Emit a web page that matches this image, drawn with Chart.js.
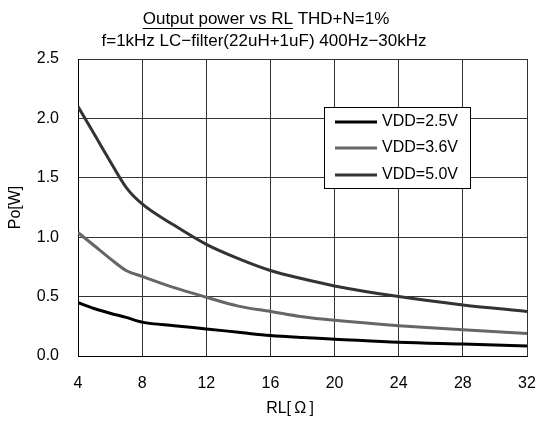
<!DOCTYPE html>
<html>
<head>
<meta charset="utf-8">
<script src="https://cdn.jsdelivr.net/npm/chart.js@4.4.0/dist/chart.umd.min.js"></script>
<style>
    html, body { margin: 0; padding: 0; background: #fff; }
    #wrap { width: 541px; height: 426px; }
</style>
</head>
<body>
<div id="wrap"><canvas id="myChart" width="541" height="426"></canvas></div>
<script>
// load resistance (ohm)
const rl = [4, 5, 6, 7, 8, 10, 12, 14, 16, 18, 20, 24, 28, 32];
// output power (W) per supply voltage
const po25 = [0.45, 0.40, 0.36, 0.325, 0.285, 0.255, 0.228, 0.20, 0.172, 0.155, 0.142, 0.115, 0.10, 0.085];
const po36 = [1.04, 0.93, 0.82, 0.72, 0.67, 0.575, 0.495, 0.42, 0.375, 0.33, 0.30, 0.255, 0.22, 0.19];
const po50 = [2.10, 1.87, 1.64, 1.42, 1.28, 1.10, 0.94, 0.82, 0.72, 0.65, 0.59, 0.50, 0.43, 0.375];
const seriesLabels = ['VDD=2.5V', 'VDD=3.6V', 'VDD=5.0V'];
const seriesColours = ['#000000', '#666666', '#333333'];
const xTicks = [4, 8, 12, 16, 20, 24, 28, 32];
const yTicks = [0, 0.5, 1.0, 1.5, 2.0, 2.5];
const xTitle = 'RL[\u2009Ω\u2009]';
const yTitle = 'Po[W]';

const FONT = "'Liberation Sans', 'Noto Sans CJK JP', sans-serif";

function toPoints(values) {
    return rl.map((x, i) => ({ x: x, y: values[i] }));
}

// titles drawn by hand so part of the first line can be underlined
const titlePlugin = {
    id: 'titleLines',
    afterDraw(chart) {
        const ctx = chart.ctx;
        ctx.save();
        ctx.fillStyle = '#000';
        ctx.font = '17px ' + FONT;
        ctx.textBaseline = 'middle';
        const a = 'Output power vs RL';
        const b = ' THD+N=1%';
        const wa = ctx.measureText(a).width;
        const wb = ctx.measureText(b).width;
        let x0 = 266 - (wa + wb) / 2;
        ctx.textAlign = 'left';
        ctx.fillText(a, x0, 19);
        ctx.fillText(b, x0 + wa, 19);
        ctx.fillRect(x0, 28, wa, 1);
        ctx.textAlign = 'center';
        ctx.fillText('f=1kHz LC\u2212filter(22uH+1uF) 400Hz\u221230kHz', 264, 41);

        // x axis title sits a bit left of the plot centre
        ctx.font = '16px ' + FONT;
        ctx.fillText(xTitle, 290, 409);
        ctx.restore();
    }
};

// legend box sits inside the plot area
const legendPlugin = {
    id: 'boxLegend',
    afterDraw(chart) {
        const ctx = chart.ctx;
        ctx.save();
        ctx.fillStyle = '#fff';
        ctx.fillRect(324.5, 107.5, 146, 81);
        ctx.strokeStyle = '#000';
        ctx.lineWidth = 1;
        ctx.strokeRect(324.5, 107.5, 146, 81);
        const rows = [122, 148, 175];
        ctx.font = '16px ' + FONT;
        ctx.textBaseline = 'middle';
        ctx.textAlign = 'left';
        chart.data.datasets.forEach((ds, i) => {
            ctx.strokeStyle = ds.borderColor;
            ctx.lineWidth = 3;
            ctx.beginPath();
            ctx.moveTo(335, rows[i]);
            ctx.lineTo(377, rows[i]);
            ctx.stroke();
            ctx.fillStyle = '#000';
            ctx.fillText(ds.label, 382, rows[i]);
        });
        ctx.restore();
    }
};

const datasets = [po25, po36, po50].map((values, i) => ({
    label: seriesLabels[i],
    data: toPoints(values),
    borderColor: seriesColours[i],
    backgroundColor: seriesColours[i],
    borderWidth: 3,
    pointRadius: 0,
    cubicInterpolationMode: 'monotone',
    fill: false
}));

new Chart(document.getElementById('myChart'), {
    type: 'line',
    data: { datasets: datasets },
    plugins: [titlePlugin, legendPlugin],
    options: {
        responsive: false,
        animation: false,
        layout: { padding: { top: 59, right: 14, left: 0, bottom: 0 } },
        plugins: {
            legend: { display: false },
            tooltip: { enabled: false }
        },
        scales: {
            x: {
                type: 'linear',
                min: 4,
                max: 32,
                afterFit: function (scale) {
                    scale.height = 70;
                    scale.paddingLeft = 0;
                    scale.paddingRight = 0;
                },
                afterBuildTicks: function (scale) { scale.ticks = xTicks.map(v => ({ value: v })); },
                grid: { color: '#333', lineWidth: 1, drawTicks: false },
                border: { color: '#000', width: 1 },
                ticks: { color: '#000', padding: 18, maxRotation: 0, font: { family: FONT, size: 16 } },
                title: { display: false }
            },
            y: {
                min: 0,
                max: 2.5,
                afterFit: function (scale) {
                    scale.width = 78;
                    scale.paddingTop = 0;
                    scale.paddingBottom = 0;
                },
                afterBuildTicks: function (scale) { scale.ticks = yTicks.map(v => ({ value: v })); },
                grid: { color: '#333', lineWidth: 1, drawTicks: false },
                border: { color: '#000', width: 1 },
                ticks: {
                    color: '#000',
                    padding: 19,
                    font: { family: FONT, size: 16 },
                    callback: function (value) { return value.toFixed(1); }
                },
                title: {
                    display: true,
                    text: yTitle,
                    color: '#000',
                    font: { family: FONT, size: 16 },
                    padding: { top: 6, bottom: 0 }
                }
            }
        }
    }
});
</script>
</body>
</html>
